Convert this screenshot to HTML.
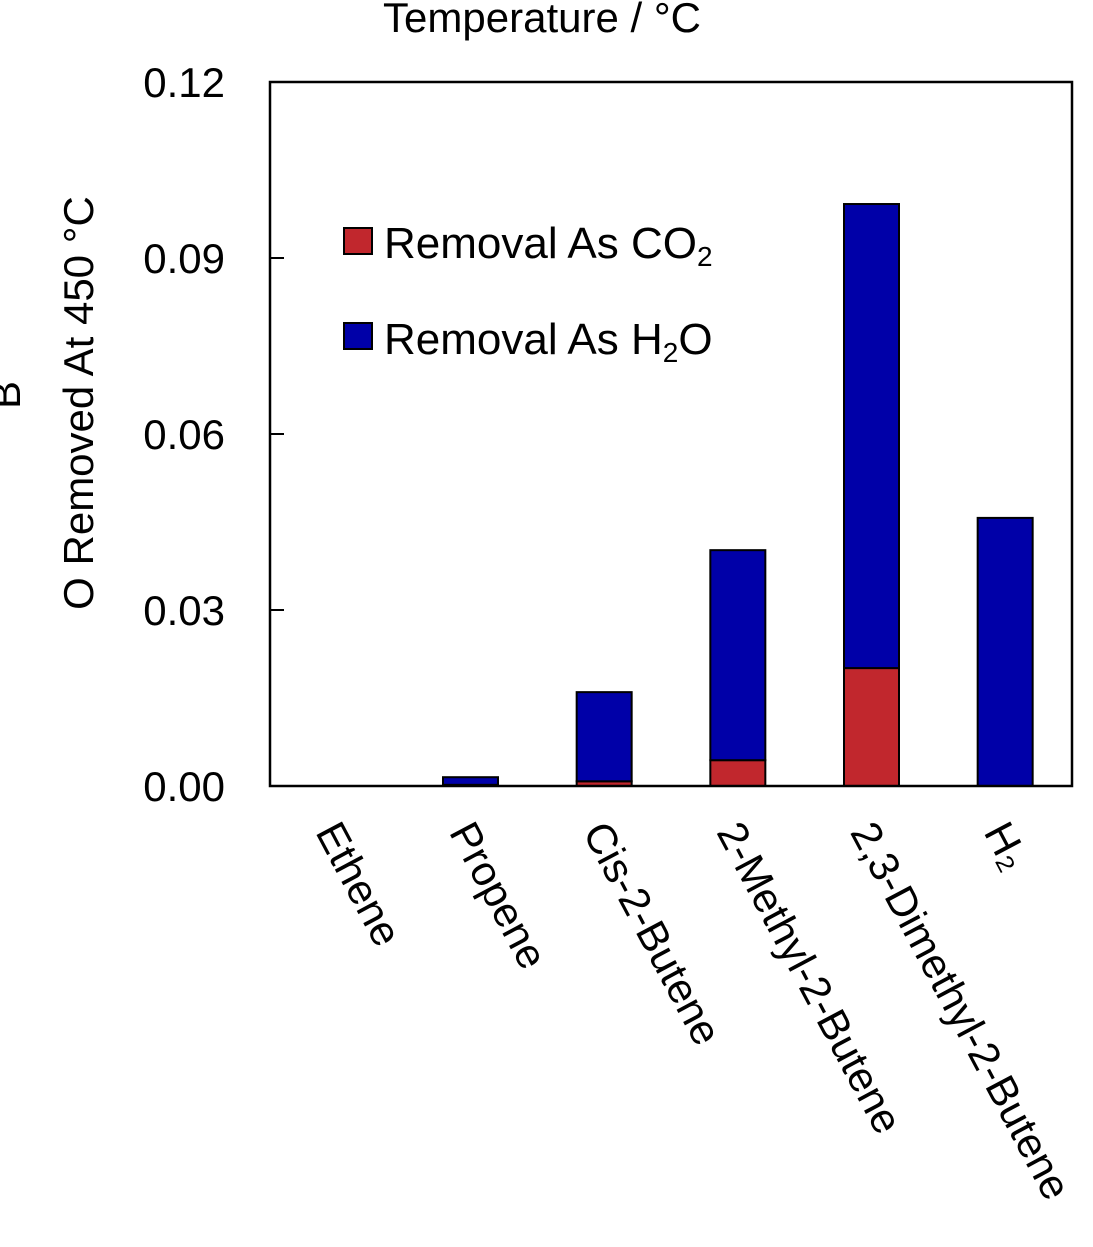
<!DOCTYPE html>
<html><head><meta charset="utf-8"><style>
html,body{margin:0;padding:0;background:#fff;}
svg{display:block;font-family:"Liberation Sans",Arial,sans-serif;}
</style></head><body>
<svg id="chart" width="1093" height="1247" viewBox="0 0 1093 1247">
<text x="542" y="32" font-size="42" text-anchor="middle">Temperature / °C</text>
<text transform="translate(20,395) rotate(-90)" font-size="42" text-anchor="middle">B</text>
<text transform="translate(93,403) rotate(-90)" font-size="42" text-anchor="middle">O Removed  At 450 °C</text>
<g id="ticks"></g>
<g id="bars"></g>
<rect x="270" y="82" width="802" height="704" fill="none" stroke="#000" stroke-width="2.5"/>
<g>
<rect x="344" y="228" width="28" height="26" fill="#c1272d" stroke="#000" stroke-width="2"/>
<text x="384" y="258" font-size="44">Removal As CO<tspan font-size="28" dy="8">2</tspan></text>
<rect x="344" y="323" width="28" height="26" fill="#0000a8" stroke="#000" stroke-width="2"/>
<text x="384" y="354" font-size="44">Removal As H<tspan font-size="28" dy="8">2</tspan><tspan dy="-8">O</tspan></text>
</g>
<g id="xlabels"></g>
</svg>
<script>
const categories = ["Ethene","Propene","Cis-2-Butene","2-Methyl-2-Butene","2,3-Dimethyl-2-Butene","H\u2082"];
const co2Values = [0, 0.0002, 0.0008, 0.0044, 0.0201, 0];
const h2oValues = [0, 0.0013, 0.0152, 0.0358, 0.0791, 0.0457];
const yTicks = [0, 0.03, 0.06, 0.09, 0.12];
const yTickLabels = ["0.00","0.03","0.06","0.09","0.12"];
const NS = "http://www.w3.org/2000/svg";
const L=270,R=1072,T=82,B=786,yMax=0.12;
const y = v => B - v/yMax*(B-T);
const band = (R-L)/categories.length;
const xc = i => L + band*(i+0.5);
const bw = 55;
const tg = document.getElementById('ticks');
yTicks.forEach((t,i)=>{
  const ln=document.createElementNS(NS,'line');
  ln.setAttribute('x1',L);ln.setAttribute('x2',L+14);ln.setAttribute('y1',y(t));ln.setAttribute('y2',y(t));
  ln.setAttribute('stroke','#000');ln.setAttribute('stroke-width','2');
  
  
  tg.appendChild(ln);
  const tx=document.createElementNS(NS,'text');
  tx.setAttribute('x',225);tx.setAttribute('y',y(t)+15);tx.setAttribute('font-size','42');tx.setAttribute('text-anchor','end');
  tx.textContent=yTickLabels[i];
  
  
  tg.appendChild(tx);
});
const bg=document.getElementById('bars');
categories.forEach((c,i)=>{
  const tot=co2Values[i]+h2oValues[i];
  if(tot<=0) return;
  const x0=xc(i)-bw/2;
  const r1=document.createElementNS(NS,'rect');
  r1.setAttribute('x',x0);r1.setAttribute('y',y(co2Values[i]));r1.setAttribute('width',bw);r1.setAttribute('height',Math.max(0,B-y(co2Values[i])));
  r1.setAttribute('fill','#c1272d');r1.setAttribute('stroke','#000');r1.setAttribute('stroke-width','2');
  
  
  bg.appendChild(r1);
  const r2=document.createElementNS(NS,'rect');
  r2.setAttribute('x',x0);r2.setAttribute('y',y(tot));r2.setAttribute('width',bw);r2.setAttribute('height',y(co2Values[i])-y(tot));
  r2.setAttribute('fill','#0000a8');r2.setAttribute('stroke','#000');r2.setAttribute('stroke-width','2');
  
  
  bg.appendChild(r2);
});
const xg=document.getElementById('xlabels');
categories.forEach((c,i)=>{
  const tx=document.createElementNS(NS,'text');
  const px=xc(i)-22, py=832;
  tx.setAttribute('transform','translate('+px+','+py+') rotate(62)');
  tx.setAttribute('font-size','42');
  tx.textContent=c;
  
  
  xg.appendChild(tx);
});
</script>
</body></html>
